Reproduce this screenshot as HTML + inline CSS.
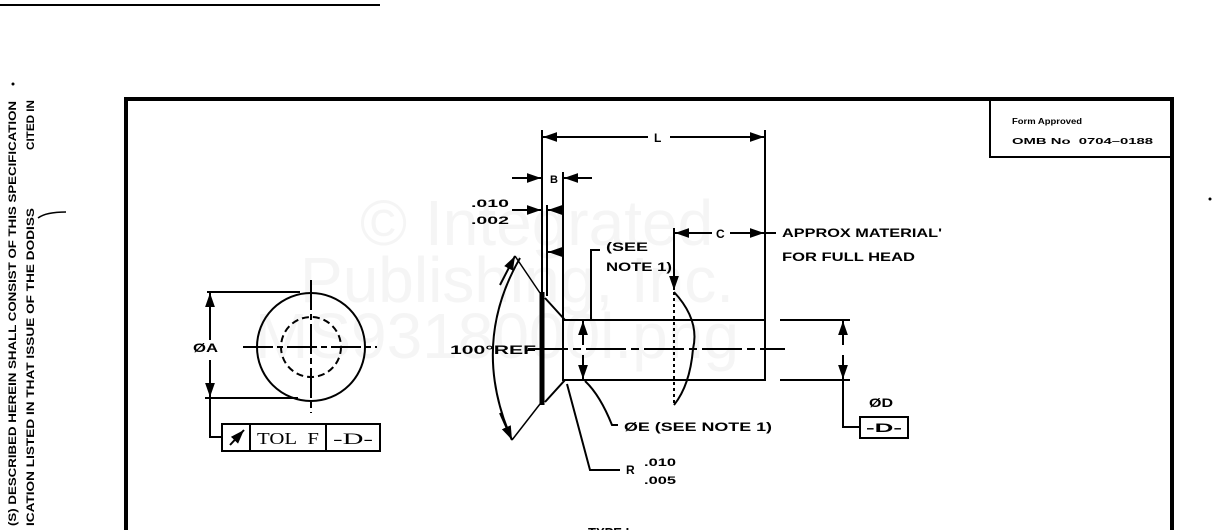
<!DOCTYPE html>
<html><head><meta charset="utf-8"><style>
html,body{margin:0;padding:0;background:#fff;}
svg{display:block;}
.t{font-family:"Liberation Sans",sans-serif;font-weight:bold;fill:#000;}
.w{font-family:"Liberation Sans",sans-serif;font-weight:normal;fill:#f5f5f5;}
</style></head><body>
<svg width="1228" height="530" viewBox="0 0 1228 530" xmlns="http://www.w3.org/2000/svg">
<defs>
<marker id="a" viewBox="0 0 10 10" refX="10" refY="5" markerWidth="7" markerHeight="7" orient="auto-start-reverse"><path d="M0,1.5 L10,5 L0,8.5z" fill="#000"/></marker>
</defs>
<!-- watermark -->
<text class="w" x="360" y="245" font-size="64">© Integrated</text>
<text class="w" x="300" y="302" font-size="64">Publishing, Inc.</text>
<text class="w" x="255" y="358" font-size="64">MS9318000l.png</text>
<!-- top-left line -->
<line x1="0" y1="5" x2="380" y2="5" stroke="#000" stroke-width="2"/>
<!-- side text -->
<text class="t" transform="translate(16,526) rotate(-90)" font-size="11" textLength="425" lengthAdjust="spacingAndGlyphs">(S) DESCRIBED HEREIN SHALL CONSIST OF THIS SPECIFICATION</text>
<text class="t" transform="translate(34,526) rotate(-90)" font-size="11" textLength="318" lengthAdjust="spacingAndGlyphs">ICATION LISTED IN THAT ISSUE OF THE DODISS</text>
<text class="t" transform="translate(34,150) rotate(-90)" font-size="11" textLength="50" lengthAdjust="spacingAndGlyphs">CITED IN</text>
<path d="M38,218 q8,-6 28,-6" stroke="#000" stroke-width="1.5" fill="none"/>
<circle cx="13" cy="84" r="1.5"/>
<circle cx="1210" cy="199" r="1.5"/>
<!-- frame -->
<path d="M126,530 V99 H1172 V530" stroke="#000" stroke-width="4" fill="none"/>
<path d="M990,100 V157 H1172" stroke="#000" stroke-width="2" fill="none"/>
<text class="t" x="1012" y="124" font-size="8" textLength="70" lengthAdjust="spacingAndGlyphs">Form Approved</text>
<text class="t" x="1012" y="144" font-size="8" textLength="141" lengthAdjust="spacingAndGlyphs">OMB No&#160;&#160;0704–0188</text>

<g stroke="#000" stroke-width="2" fill="none">
<!-- left view -->
<circle cx="311" cy="347" r="54"/>
<circle cx="311" cy="347" r="30" stroke-dasharray="7,4"/>
<line x1="243" y1="347" x2="377" y2="347" stroke-dasharray="30,4,6,4"/>
<line x1="311" y1="280" x2="311" y2="413" stroke-dasharray="30,4,6,4"/>
<line x1="207" y1="292" x2="300" y2="292"/>
<line x1="205" y1="398" x2="298" y2="398"/>
<line x1="210" y1="340" x2="210" y2="293" marker-end="url(#a)"/>
<line x1="210" y1="360" x2="210" y2="397" marker-end="url(#a)"/>
<path d="M210,397 V437 H222"/>
<rect x="222" y="424" width="158" height="27"/>
<line x1="250" y1="424" x2="250" y2="451"/>
<line x1="326" y1="424" x2="326" y2="451"/>
<line x1="230" y1="445" x2="244" y2="430" marker-end="url(#a)"/>

<!-- main rivet -->
<line x1="542" y1="130" x2="542" y2="292"/>
<line x1="765" y1="130" x2="765" y2="380"/>
<line x1="648" y1="137" x2="543" y2="137" marker-end="url(#a)"/>
<line x1="670" y1="137" x2="764" y2="137" marker-end="url(#a)"/>
<line x1="563" y1="172" x2="563" y2="320"/>
<line x1="512" y1="178" x2="541" y2="178" marker-end="url(#a)"/>
<line x1="592" y1="178" x2="564" y2="178" marker-end="url(#a)"/>
<line x1="547" y1="205" x2="547" y2="296"/>
<line x1="512" y1="210" x2="541" y2="210" marker-end="url(#a)"/>
<line x1="563" y1="210" x2="548" y2="210" marker-end="url(#a)"/>
<line x1="563" y1="252" x2="548" y2="252" marker-end="url(#a)"/>
<!-- head -->
<line x1="542" y1="292" x2="542" y2="405" stroke-width="5"/>
<path d="M545,298 L565,320 M545,402 L565,380"/>
<path d="M563,320 H765 V380 H563 Z"/>
<line x1="528" y1="349" x2="785" y2="349" stroke-dasharray="40,5,8,5"/>
<!-- formed head -->
<line x1="674" y1="292" x2="674" y2="405" stroke-dasharray="3,3"/>
<path d="M674,292 Q700,320 693,349 Q690,385 674,405"/>
<line x1="674" y1="228" x2="674" y2="290" marker-end="url(#a)"/>
<line x1="712" y1="233" x2="675" y2="233" marker-end="url(#a)"/>
<line x1="730" y1="233" x2="764" y2="233" marker-end="url(#a)"/>
<line x1="765" y1="233" x2="776" y2="233"/>
<!-- see note leader -->
<path d="M591,320 V250 H600"/>
<!-- ØE -->
<line x1="583" y1="345" x2="583" y2="321" marker-end="url(#a)"/>
<line x1="583" y1="355" x2="583" y2="379" marker-end="url(#a)"/>
<path d="M585,381 Q600,395 612,425 H618"/>
<!-- R -->
<path d="M567,384 L590,470 H620"/>
<!-- 100 arc -->
<path d="M520,258 Q470,345 512,440"/>
<path d="M500,285 L515,256" marker-end="url(#a)"/>
<path d="M500,413 L512,440" marker-end="url(#a)"/>
<path d="M515,256 L540,293 M512,440 L540,404" stroke-width="1.5"/>
<!-- ØD -->
<line x1="780" y1="320" x2="850" y2="320"/>
<line x1="780" y1="380" x2="850" y2="380"/>
<line x1="843" y1="345" x2="843" y2="321" marker-end="url(#a)"/>
<line x1="843" y1="355" x2="843" y2="379" marker-end="url(#a)"/>
<path d="M843,380 V427 H860"/>
<rect x="860" y="417" width="48" height="21"/>
</g>

<text class="t" x="193" y="352" font-size="12" textLength="25" lengthAdjust="spacingAndGlyphs">ØA</text>
<text x="257" y="444" font-size="17" style="font-family:'Liberation Serif',serif" textLength="62" lengthAdjust="spacingAndGlyphs">TOL&#160;&#160;F</text>
<text x="333" y="444" font-size="16" style="font-family:'Liberation Serif',serif" textLength="40" lengthAdjust="spacingAndGlyphs">-D-</text>
<text class="t" x="654" y="142" font-size="12">L</text>
<text class="t" x="550" y="183" font-size="11">B</text>
<text class="t" x="471" y="207" font-size="11" textLength="38" lengthAdjust="spacingAndGlyphs">.010</text>
<text class="t" x="471" y="224" font-size="11" textLength="38" lengthAdjust="spacingAndGlyphs">.002</text>
<text class="t" x="606" y="251" font-size="12" textLength="42" lengthAdjust="spacingAndGlyphs">(SEE</text>
<text class="t" x="606" y="271" font-size="12" textLength="66" lengthAdjust="spacingAndGlyphs">NOTE 1)</text>
<text class="t" x="716" y="238" font-size="12">C</text>
<text class="t" x="782" y="237" font-size="12" textLength="160" lengthAdjust="spacingAndGlyphs">APPROX MATERIAL'</text>
<text class="t" x="782" y="261" font-size="12" textLength="133" lengthAdjust="spacingAndGlyphs">FOR FULL HEAD</text>
<text class="t" x="450" y="354" font-size="12" textLength="86" lengthAdjust="spacingAndGlyphs">100°REF</text>
<text class="t" x="624" y="431" font-size="12" textLength="148" lengthAdjust="spacingAndGlyphs">ØE (SEE NOTE 1)</text>
<text class="t" x="626" y="474" font-size="12">R</text>
<text class="t" x="644" y="466" font-size="11" textLength="32" lengthAdjust="spacingAndGlyphs">.010</text>
<text class="t" x="644" y="484" font-size="11" textLength="32" lengthAdjust="spacingAndGlyphs">.005</text>
<text class="t" x="869" y="407" font-size="12" textLength="24" lengthAdjust="spacingAndGlyphs">ØD</text>
<text class="t" x="866" y="432" font-size="12" textLength="36" lengthAdjust="spacingAndGlyphs">-D-</text>
<text class="t" x="588" y="537" font-size="13">TYPE I</text>
</svg>
</body></html>
